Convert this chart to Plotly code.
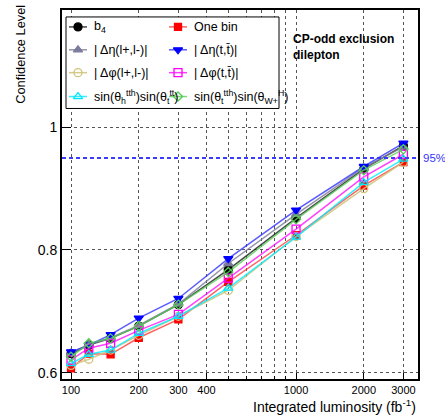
import plotly.graph_objects as go

# Integrated luminosity points (fb^-1)
lumi = [100, 120, 150, 200, 300, 500, 1000, 2000, 3000]

# Confidence level of the CP-odd exclusion for each observable
cl_b4 = [0.631, 0.645, 0.656, 0.676, 0.711, 0.768, 0.852, 0.932, 0.970]
cl_onebin = [0.607, 0.631, 0.630, 0.657, 0.687, 0.748, 0.824, 0.905, 0.943]
cl_deta_ll = [0.632, 0.646, 0.657, 0.677, 0.712, 0.778, 0.858, 0.934, 0.968]
cl_deta_tt = [0.634, 0.645, 0.662, 0.689, 0.721, 0.786, 0.865, 0.936, 0.974]
cl_dphi_ll = [0.612, 0.622, 0.637, 0.661, 0.692, 0.734, 0.822, 0.900, 0.943]
cl_dphi_tt = [0.621, 0.640, 0.648, 0.669, 0.695, 0.754, 0.834, 0.919, 0.956]
cl_sin_ht = [0.615, 0.630, 0.637, 0.664, 0.692, 0.738, 0.821, 0.910, 0.948]
cl_sin_tw = [0.626, 0.648, 0.656, 0.676, 0.711, 0.764, 0.850, 0.930, 0.964]

labels = [
    "b<sub>4</sub>",
    "One bin",
    "| Δη(l+,l-)|",
    "| Δη(t,t\u0304)|",
    "| Δφ(l+,l-)|",
    "| Δφ(t,t\u0304)|",
    "sin(θ<sub>h</sub><sup>tth</sup>)sin(θ<sub>t</sub><sup>tt</sup>)",
    "sin(θ<sub>t</sub><sup>tth</sup>)sin(θ<sub>W+</sub><sup>H</sup>)",
]

x_tickvals = [100, 200, 300, 400, 1000, 2000, 3000]
x_minor = [500, 600, 700, 800, 900]
y_tickvals = [0.6, 0.8, 1.0]
y_ticktext = ["0.6", "0.8", "1"]
cl_target = 0.95

series = [cl_b4, cl_onebin, cl_deta_ll, cl_deta_tt, cl_dphi_ll, cl_dphi_tt, cl_sin_ht, cl_sin_tw]
styles = [
    dict(sym="circle", mc="#000000", lc="rgba(40,40,40,0.85)", size=8),
    dict(sym="square", mc="#ff0000", lc="rgba(255,60,60,0.8)", size=7),
    dict(sym="triangle-up", mc="#7a7a9a", lc="rgba(120,120,150,0.8)", size=8),
    dict(sym="triangle-down", mc="#0000ff", lc="rgba(50,50,255,0.8)", size=8),
    dict(sym="circle-open", mc="#cfc47c", lc="rgba(205,195,120,0.85)", size=8),
    dict(sym="square-open", mc="#ff00ff", lc="rgba(255,0,255,0.75)", size=8),
    dict(sym="triangle-up-open", mc="#00e8ff", lc="rgba(0,235,255,0.8)", size=8),
    dict(sym="diamond-open", mc="#55cc55", lc="rgba(90,205,90,0.8)", size=7),
]

FONT = "Liberation Sans, Arial, Helvetica, sans-serif"

# Plot-area edges in pixels
PX_L, PX_R, PX_T, PX_B = 62, 418, 8, 379


def px_x(p):
    return (p - PX_L) / (PX_R - PX_L)


def px_y(p):
    return (PX_B - p) / (PX_B - PX_T)


fig = go.Figure()

for ys, st, name in zip(series, styles, labels):
    fig.add_trace(go.Scatter(
        x=lumi, y=ys, mode="lines+markers", name=name, showlegend=False,
        line=dict(color=st["lc"], width=1.5),
        marker=dict(symbol=st["sym"], color=st["mc"], size=st["size"],
                    line=dict(color=st["mc"], width=1.3)),
        cliponaxis=False,
    ))

# Legend box (opaque, hides the grid behind it)
BOX = (66, 279, 15, 107)
fig.add_trace(go.Scatter(
    x=[BOX[0], BOX[1], BOX[1], BOX[0], BOX[0]],
    y=[BOX[2], BOX[2], BOX[3], BOX[3], BOX[2]],
    mode="lines", fill="toself", fillcolor="white",
    line=dict(color="black", width=1), xaxis="x2", yaxis="y2",
    showlegend=False, hoverinfo="skip",
))

rows = [25, 48, 71, 95]
cols = [(69, 87, 92), (169, 187, 192)]
for i, (name, st) in enumerate(zip(labels, styles)):
    r, c = divmod(i, 2)
    x0, x1, xt = cols[c]
    yy = rows[r]
    fig.add_trace(go.Scatter(
        x=[x0, x1], y=[yy, yy], mode="lines",
        line=dict(color=st["lc"], width=1.5), xaxis="x2", yaxis="y2",
        showlegend=False, hoverinfo="skip",
    ))
    fig.add_trace(go.Scatter(
        x=[(x0 + x1) / 2], y=[yy], mode="markers",
        marker=dict(symbol=st["sym"], color=st["mc"], size=st["size"],
                    line=dict(color=st["mc"], width=1.3)),
        xaxis="x2", yaxis="y2", showlegend=False, hoverinfo="skip",
    ))
    fig.add_annotation(x=px_x(xt), y=px_y(yy), xref="paper", yref="paper", text=name,
                       showarrow=False, xanchor="left", yanchor="middle",
                       font=dict(family=FONT, size=12.5, color="black"))

# 95% reference line
fig.add_shape(type="line", xref="paper", yref="y", x0=0, x1=1, y0=cl_target, y1=cl_target,
              line=dict(color="#3b3bff", width=2, dash="4px,3px"))
fig.add_annotation(x=px_x(421), y=cl_target, xref="paper", yref="y", text="95%",
                   showarrow=False, xanchor="left", yanchor="middle",
                   font=dict(family=FONT, size=11.5, color="#3535ff"))

fig.add_annotation(x=px_x(291), y=px_y(45), xref="paper", yref="paper",
                   text="<b>CP-odd exclusion</b><br><b>dilepton</b>", showarrow=False,
                   xanchor="left", yanchor="middle", align="left",
                   font=dict(family=FONT, size=12, color="black"))

# Axis titles
fig.add_annotation(x=px_x(21), y=px_y(53), xref="paper", yref="paper",
                   text="Confidence Level", textangle=-90, showarrow=False,
                   xanchor="center", yanchor="middle",
                   font=dict(family=FONT, size=12.8, color="black"))
fig.add_annotation(x=px_x(418), y=px_y(406), xref="paper", yref="paper",
                   text="Integrated luminosity (fb<sup>-1</sup>)", showarrow=False,
                   xanchor="right", yanchor="middle",
                   font=dict(family=FONT, size=14, color="black"))

fig.update_layout(
    width=445, height=419,
    margin=dict(l=PX_L, r=445 - PX_R, t=PX_T, b=419 - PX_B),
    paper_bgcolor="white", plot_bgcolor="white",
    font=dict(family=FONT, color="black"),
    xaxis=dict(
        type="log", range=[1.96, 3.542],
        tickvals=x_tickvals, ticktext=[str(v) for v in x_tickvals],
        ticks="inside", ticklen=6, tickcolor="black", tickwidth=1,
        tickfont=dict(size=11),
        showgrid=True, gridcolor="#555555", griddash="dot", gridwidth=1,
        minor=dict(tickvals=x_minor, showgrid=True, gridcolor="#555555",
                   griddash="dot", gridwidth=1, ticks="inside", ticklen=3,
                   tickcolor="black"),
        showline=True, linecolor="black", linewidth=2, mirror=True,
        zeroline=False,
    ),
    yaxis=dict(
        range=[0.5898, 1.191],
        tickvals=y_tickvals, ticktext=y_ticktext,
        ticks="inside", ticklen=9, tickcolor="black", tickwidth=1,
        tickfont=dict(size=14),
        showgrid=True, gridcolor="#555555", griddash="dot", gridwidth=1,
        showline=True, linecolor="black", linewidth=2, mirror=True,
        zeroline=False,
    ),
    xaxis2=dict(range=[PX_L, PX_R], overlaying="x", visible=False, fixedrange=True),
    yaxis2=dict(range=[PX_B, PX_T], overlaying="y", visible=False, fixedrange=True),
)

fig.write_html("out.html")
